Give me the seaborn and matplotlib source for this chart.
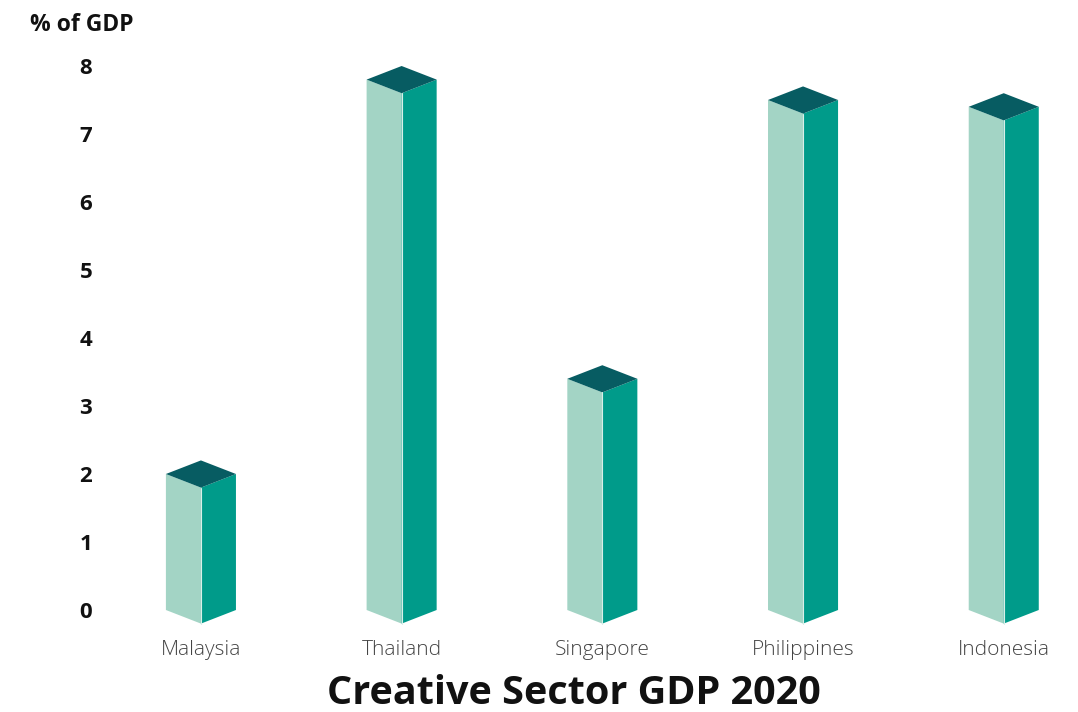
import matplotlib
matplotlib.use("Agg")
import matplotlib.pyplot as plt
import seaborn as sns
import pandas as pd
from matplotlib.patches import Polygon

countries = ["Malaysia", "Thailand", "Singapore", "Philippines", "Indonesia"]
gdp_share = [2.0, 7.8, 3.4, 7.5, 7.4]
y_ticks = [0, 1, 2, 3, 4, 5, 6, 7, 8]

LIGHT = "#A3D4C5"
MID = "#009B8A"
DARK = "#075C62"

sns.set_theme(style="white")
plt.rcParams['font.family'] = ['Open Sans', 'DejaVu Sans']

fig = plt.figure(figsize=(10.78, 7.12), dpi=100)
ax = fig.add_axes([0.0933, 0.1146, 0.9067, 0.8118])

df = pd.DataFrame({"country": countries, "gdp": gdp_share})
sns.barplot(data=df, x="country", y="gdp", ax=ax, color=LIGHT,
            width=0.349, saturation=1, edgecolor="none")

ax.set_xlim(-0.5, 4.37)
ax.set_ylim(-0.3, 8.2)

d = 0.2  # depth of the isometric diamond in data units
for p in list(ax.patches):
    x0 = p.get_x()
    w = p.get_width()
    v = p.get_height()
    xc = x0 + w / 2
    x1 = x0 + w
    p.set_visible(False)
    left = Polygon([(x0, v), (xc, v - d), (xc, -d), (x0, 0)], closed=True,
                   facecolor=LIGHT, edgecolor="none", zorder=3)
    right = Polygon([(xc, v - d), (x1, v), (x1, 0), (xc, -d)], closed=True,
                    facecolor=MID, edgecolor="none", zorder=3)
    top = Polygon([(x0, v), (xc, v + d), (x1, v), (xc, v - d)], closed=True,
                  facecolor=DARK, edgecolor="none", zorder=4)
    for poly in (left, right, top):
        ax.add_patch(poly)
    ax.plot([xc, xc], [-d, v - d], color="#d8efe8", lw=0.8, zorder=5)

ax.set_yticks(y_ticks)
ax.set_yticklabels([str(t) for t in y_ticks], fontsize=16, fontweight="bold",
                   color="#111111")
ax.tick_params(axis="y", length=0, pad=6)
ax.tick_params(axis="x", length=0, pad=7, labelsize=15, labelcolor="#444444")
for lab in ax.get_xticklabels():
    lab.set_fontweight("light")
ax.set_xlabel("")
ax.set_ylabel("")
sns.despine(ax=ax, left=True, bottom=True)
ax.grid(False)

fig.text(30 / 1078, 1 - 25 / 712, "% of GDP", ha="left", va="center",
         fontsize=16.5, fontweight="bold", color="#111111")
fig.text(574 / 1078, 1 - 693 / 712, "Creative Sector GDP 2020", ha="center",
         va="center", fontsize=28.5, fontweight="bold", color="#111111")

fig.savefig("out.png", dpi=100)
